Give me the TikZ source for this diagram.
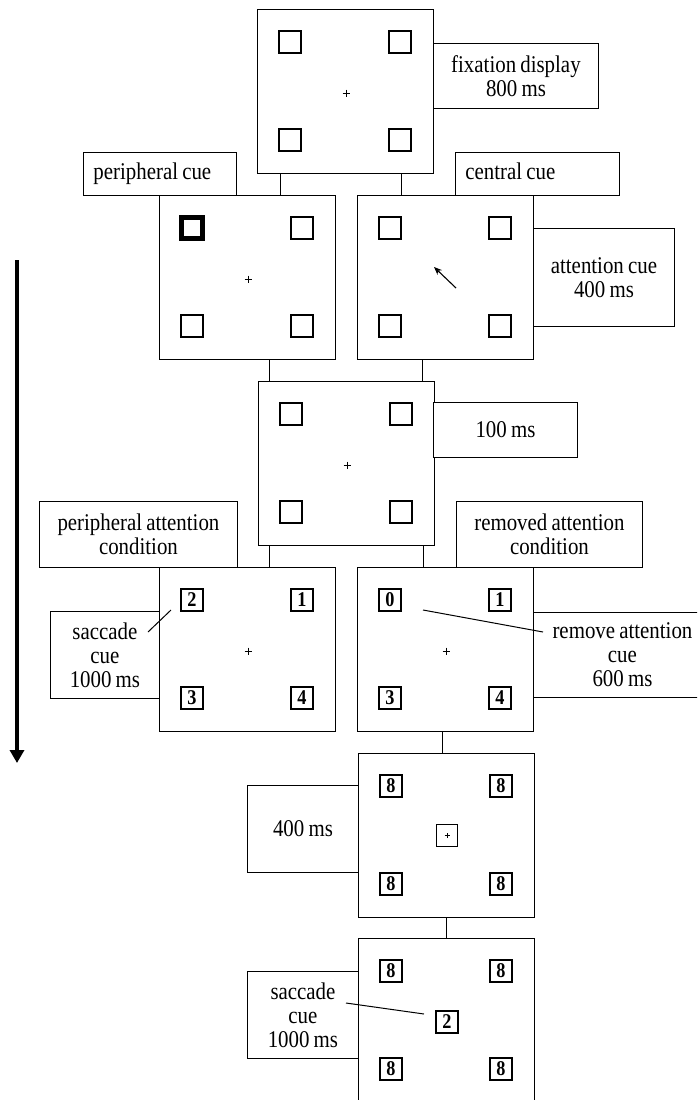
\documentclass[tikz,border=0pt]{standalone}
\usepackage{fontspec}
\setmainfont{Liberation Serif}[FakeStretch=0.87,WordSpace=0.8]
\usetikzlibrary{arrows.meta}
\begin{document}
\begin{tikzpicture}[x=1pt,y=-1pt,
  screen/.style={draw, line width=0.9pt, minimum width=176pt, minimum height=164pt, inner sep=0pt, anchor=north west},
  label/.style={draw, line width=0.9pt, fill=white, inner sep=0pt, anchor=north west, align=center, font=\fontsize{24}{24}\selectfont},
  leftlabel/.style={label, align=flush left, inner xsep=10pt, inner ysep=0pt, text height=16pt, text depth=5pt, minimum height=43pt},
  sq/.style={draw, line width=1.7pt, minimum size=21.5pt, inner sep=0pt},
  thicksq/.style={draw, line width=4.2pt, minimum size=21pt, inner sep=0pt},
  numsq/.style={sq, font=\fontsize{21}{21}\selectfont\bfseries},
  conn/.style={line width=0.9pt},
  plusline/.style={line width=0.6pt},
  pointer/.style={line width=1pt}
]
\useasboundingbox (0,0) rectangle (697,1100);
\fill[white] (0,0) rectangle (697,1100);
\clip (0,0) rectangle (697,1100);

\newcommand\emptysquares[2]{%
  \node[#2] (#1tl) at ([shift={(33,33)}]#1.north west) {};
  \node[sq] (#1tr) at ([shift={(143,33)}]#1.north west) {};
  \node[sq] (#1bl) at ([shift={(33,131)}]#1.north west) {};
  \node[sq] (#1br) at ([shift={(143,131)}]#1.north west) {};}
\newcommand\numsquares[5]{%
  \node[numsq] (#1tl) at ([shift={(33,33)}]#1.north west) {#2};
  \node[numsq] (#1tr) at ([shift={(143,33)}]#1.north west) {#3};
  \node[numsq] (#1bl) at ([shift={(33,131)}]#1.north west) {#4};
  \node[numsq] (#1br) at ([shift={(143,131)}]#1.north west) {#5};}
\newcommand\plusin[1]{%
  \draw[plusline] ([shift={(85.5,84)}]#1.north west) -- ++(7,0)
                  ([shift={(89,80.5)}]#1.north west) -- ++(0,7);}

% screens
\node[screen] (s1)  at (257,9) {};
\node[screen] (s2a) at (159,195) {};
\node[screen] (s2b) at (357,195) {};
\node[screen] (s3)  at (258,381) {};
\node[screen] (s4a) at (159,567) {};
\node[screen] (s4b) at (357,567) {};
\node[screen] (s5)  at (358,753) {};
\node[screen] (s6)  at (358,938) {};

% connectors between screens
\coordinate (k1) at (280,0);
\coordinate (k2) at (401,0);
\coordinate (k3) at (269,0);
\coordinate (k4) at (422,0);
\coordinate (k5) at (269,0);
\coordinate (k6) at (423,0);
\coordinate (k7) at (442,0);
\coordinate (k8) at (446,0);
\draw[conn] (s1.south -| k1) -- (s2a.north -| k1);
\draw[conn] (s1.south -| k2) -- (s2b.north -| k2);
\draw[conn] (s2a.south -| k3) -- (s3.north -| k3);
\draw[conn] (s2b.south -| k4) -- (s3.north -| k4);
\draw[conn] (s3.south -| k5) -- (s4a.north -| k5);
\draw[conn] (s3.south -| k6) -- (s4b.north -| k6);
\draw[conn] (s4b.south -| k7) -- (s5.north -| k7);
\draw[conn] (s5.south -| k8) -- (s6.north -| k8);

% screen contents
\emptysquares{s1}{sq}
\plusin{s1}
\emptysquares{s2a}{thicksq}
\plusin{s2a}
\emptysquares{s2b}{sq}
\draw[line width=1.1pt, -{Stealth[length=8pt,width=6.5pt]}] ([shift={(99,93)}]s2b.north west) coordinate (arA) -- ([shift={(77,72)}]s2b.north west) coordinate (arB);
\emptysquares{s3}{sq}
\plusin{s3}
\numsquares{s4a}{2}{1}{3}{4}
\plusin{s4a}
\numsquares{s4b}{0}{1}{3}{4}
\plusin{s4b}
\numsquares{s5}{8}{8}{8}{8}
\node[draw, line width=1.3pt, minimum size=21.5pt, inner sep=0pt] (s5c) at ([shift={(89,82.5)}]s5.north west) {};
\draw[plusline] ([xshift=-2.5pt]s5c.center) -- ([xshift=2.5pt]s5c.center)
                ([yshift=-2.5pt]s5c.center) -- ([yshift=2.5pt]s5c.center);
\numsquares{s6}{8}{8}{8}{8}
\node[numsq] (s6c) at ([shift={(89,84)}]s6.north west) {2};

% labels
\node[label, minimum width=165pt, minimum height=65pt] (fix) at (433,43) {fixation display\\800 ms};
\node[leftlabel, text width=133pt] (pc) at (83,152) {peripheral cue};
\node[leftlabel, text width=144pt] (cc) at (455,152) {central cue};
\node[label, minimum width=141pt, minimum height=98pt] (att) at (533,228) {attention cue\\400 ms};
\node[label, minimum width=144pt, minimum height=55pt] (t100) at (433,402) {100 ms};
\node[label, minimum width=198pt, minimum height=66pt] (pac) at (39,501) {peripheral attention\\condition};
\node[label, minimum width=186pt, minimum height=66pt] (rac) at (456,501) {removed attention\\condition};
\node[label, minimum width=109pt, minimum height=87pt] (sc1) at (50,611) {saccade\\cue\\1000 ms};
\node[label, minimum width=178pt, minimum height=85pt] (ra) at (533,612) {remove attention\\cue\\600 ms};
\node[label, minimum width=111pt, minimum height=87pt] (t400) at (247,785) {400 ms};
\node[label, minimum width=111pt, minimum height=87pt] (sc2) at (247,971) {saccade\\cue\\1000 ms};

% pointer lines
\coordinate (p1a) at (148,632);
\coordinate (p1b) at (171,610);
\draw[pointer] (p1a) -- (p1b);
\coordinate (p2a) at (423,610);
\coordinate (p2b) at (543,632);
\draw[pointer] (p2a) -- (p2b);
\coordinate (p3a) at (346,1003);
\coordinate (p3b) at (424,1014);
\draw[pointer] (p3a) -- (p3b);

% time arrow
\coordinate (ta) at (17,260);
\coordinate (tb) at (17,763);
\draw[line width=4.5pt, -{Triangle[width=14pt,length=13pt]}] (ta) -- (tb);
\end{tikzpicture}
\end{document}
